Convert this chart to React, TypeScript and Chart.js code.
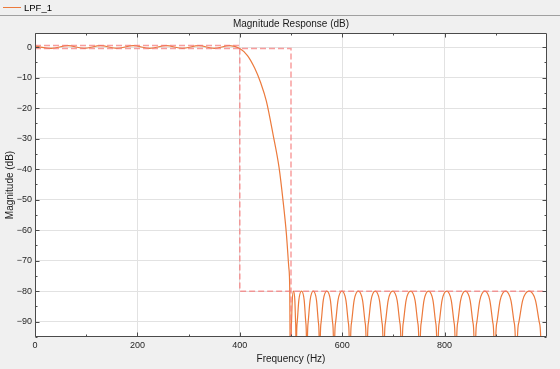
import React, { useEffect, useRef } from "react";
import { Chart, registerables } from "chart.js";
Chart.register(...registerables);

// Passband ripple extrema (Hz, dB)
const passFreq = [0, 32, 64, 96, 128, 160, 192, 224, 256, 288, 320, 350, 380, 400];
const passMag = [0.3, -0.45, 0.45, -0.45, 0.45, -0.45, 0.45, -0.45, 0.45, -0.45, 0.45, -0.45, 0.45, -0.5];

// Transition band (Hz, dB)
const transFreq = [415, 429, 441, 452, 465, 476.7, 484.5, 491, 495.6, 497.6, 500];
const transMag = [-2.8, -6.9, -11.8, -17.8, -28.7, -39.5, -50.4, -61.2, -72, -80, -150];

// Stopband lobes (Hz, dB)
const stopFreq = [
  500.3, 501, 502.5, 505, 507.5, 509, 509.7, 510,
  510.6, 512.1, 515.3, 520.5, 525.8, 528.9, 530.4, 531,
  531.8, 533.5, 537.3, 543.5, 549.8, 553.5, 555.3, 556,
  556.8, 558.8, 563, 570, 577, 581.2, 583.2, 584,
  584.9, 587.1, 591.8, 599.5, 607.3, 611.9, 614.1, 615,
  616, 618.3, 623.3, 631.5, 639.8, 644.7, 647, 648,
  649, 651.3, 656.3, 664.5, 672.8, 677.7, 680, 681,
  682.1, 684.5, 689.8, 698.5, 707.3, 712.5, 715, 716,
  717.1, 719.5, 724.8, 733.5, 742.3, 747.5, 750, 751,
  752.1, 754.5, 759.8, 768.5, 777.3, 782.5, 785, 786,
  787.1, 789.6, 795, 804, 813, 818.4, 820.9, 822,
  823.1, 825.7, 831.3, 840.5, 849.8, 855.3, 857.9, 859,
  860.2, 862.9, 868.8, 878.5, 888.3, 894.1, 896.8, 898,
  899.3, 902.2, 908.5, 919, 929.5, 935.8, 938.7, 940,
  941.5, 945, 952.5, 965, 977.5, 985, 988.5, 990,
  1000,
];
const stopMag = [
  -99.6, -90.2, -83, -80, -83, -90.2, -99.6, -150,
  -99.6, -90.2, -83, -80, -83, -90.2, -99.6, -150,
  -99.6, -90.2, -83, -80, -83, -90.2, -99.6, -150,
  -99.6, -90.2, -83, -80, -83, -90.2, -99.6, -150,
  -99.6, -90.2, -83, -80, -83, -90.2, -99.6, -150,
  -99.6, -90.2, -83, -80, -83, -90.2, -99.6, -150,
  -99.6, -90.2, -83, -80, -83, -90.2, -99.6, -150,
  -99.6, -90.2, -83, -80, -83, -90.2, -99.6, -150,
  -99.6, -90.2, -83, -80, -83, -90.2, -99.6, -150,
  -99.6, -90.2, -83, -80, -83, -90.2, -99.6, -150,
  -99.6, -90.2, -83, -80, -83, -90.2, -99.6, -150,
  -99.6, -90.2, -83, -80, -83, -90.2, -99.6, -150,
  -99.6, -90.2, -83, -80, -83, -90.2, -99.6, -150,
  -99.6, -90.2, -83, -80, -83, -90.2, -99.6, -150,
  -99.6, -90.2, -83, -80, -83, -90.2, -99.6, -150,
  -120,
];

// Specification mask lines
const maskUpperFreq = [0, 400];
const maskUpperMag = [0.5, 0.5];
const maskLowerFreq = [0, 500, 500];
const maskLowerMag = [-0.5, -0.5, -200];
const maskStopFreq = [400, 400, 1000];
const maskStopMag = [-0.5, -80, -80];

// Ticks
const xTickValues = [0, 200, 400, 600, 800];
const xMinorTicks = [100, 300, 500, 700, 900];
const yTickValues = [-90, -80, -70, -60, -50, -40, -30, -20, -10, 0];
const yMinorTicks = [-95, -85, -75, -65, -55, -45, -35, -25, -15, -5];

const X_MIN = 0;
const X_MAX = 1000;
const Y_MIN = -95;
const Y_MAX = 4.6;

const FONT = "'Liberation Sans', Arial, Helvetica, sans-serif";
const CURVE = "#ec7a3c";
const MASK = "rgba(245,115,115,0.7)";

const toPts = (xs: number[], ys: number[]) => xs.map((x, i) => ({ x, y: ys[i] }));

const framePlugin = {
  id: "frame",
  beforeDraw(chart: any) {
    const { ctx, chartArea: a } = chart;
    ctx.save();
    ctx.fillStyle = "#ffffff";
    ctx.fillRect(a.left, a.top, a.right - a.left, a.bottom - a.top);
    ctx.restore();
  },
  afterDraw(chart: any) {
    const { ctx, chartArea: a, scales } = chart;
    const L = Math.round(a.left) + 0.5;
    const R = Math.round(a.right) - 0.5;
    const T = Math.round(a.top) + 0.5;
    const B = Math.round(a.bottom) - 0.5;
    ctx.save();
    ctx.strokeStyle = "#4a4a4a";
    ctx.lineWidth = 1;
    ctx.beginPath();
    ctx.moveTo(L, T);
    ctx.lineTo(R, T);
    ctx.lineTo(R, B);
    ctx.lineTo(L, B);
    ctx.closePath();
    ctx.stroke();
    const xs = scales.x;
    const ys = scales.y;
    const drawX = (v: number, len: number) => {
      const p = Math.round(xs.getPixelForValue(v)) + 0.5;
      ctx.moveTo(p, B);
      ctx.lineTo(p, B - len);
      ctx.moveTo(p, T);
      ctx.lineTo(p, T + len);
    };
    const drawY = (v: number, len: number) => {
      const p = Math.round(ys.getPixelForValue(v)) + 0.5;
      ctx.moveTo(L, p);
      ctx.lineTo(L + len, p);
      ctx.moveTo(R, p);
      ctx.lineTo(R - len, p);
    };
    ctx.beginPath();
    xTickValues.forEach((v) => drawX(v, 4));
    xMinorTicks.forEach((v) => drawX(v, 2));
    yTickValues.forEach((v) => drawY(v, 4));
    yMinorTicks.forEach((v) => drawY(v, 2));
    ctx.stroke();
    ctx.restore();
  },
};

export default function App() {
  const ref = useRef<HTMLCanvasElement>(null);

  useEffect(() => {
    const smoothPart = [...toPts(passFreq, passMag), ...toPts(transFreq, transMag)];
    const stopPart = [{ x: transFreq[transFreq.length - 1], y: transMag[transMag.length - 1] }, ...toPts(stopFreq, stopMag)];
    const maskStyle = {
      borderColor: MASK,
      borderWidth: 1.5,
      borderDash: [6, 3],
      pointRadius: 0,
      tension: 0,
      fill: false,
      order: 0,
    };
    const chart = new Chart(ref.current as HTMLCanvasElement, {
      type: "line",
      data: {
        datasets: [
          { label: "mask1", data: toPts(maskUpperFreq, maskUpperMag), ...maskStyle },
          { label: "mask2", data: toPts(maskLowerFreq, maskLowerMag), ...maskStyle },
          { label: "mask3", data: toPts(maskStopFreq, maskStopMag), ...maskStyle },
          {
            label: "LPF_1",
            data: smoothPart,
            borderColor: CURVE,
            borderWidth: 1.2,
            pointRadius: 0,
            cubicInterpolationMode: "monotone",
            fill: false,
            order: 1,
          },
          {
            label: "LPF_1 stopband",
            data: stopPart,
            borderColor: CURVE,
            borderWidth: 1.2,
            pointRadius: 0,
            cubicInterpolationMode: "monotone",
            fill: false,
            order: 1,
          },
        ],
      },
      options: {
        responsive: false,
        animation: false,
        devicePixelRatio: 1,
        layout: { padding: { top: 16, right: 13, bottom: 0, left: 0 } },
        plugins: {
          legend: { display: false },
          tooltip: { enabled: false },
          title: {
            display: true,
            text: "Magnitude Response (dB)",
            fullSize: false,
            color: "#1a1a1a",
            font: { family: FONT, size: 10, weight: "normal" },
            padding: { top: 2.5, bottom: 2.5 },
          },
        },
        scales: {
          x: {
            type: "linear",
            min: X_MIN,
            max: X_MAX,
            afterBuildTicks: (s: any) => {
              s.ticks = xTickValues.map((v) => ({ value: v }));
            },
            afterFit: (s: any) => {
              s.height = 32;
            },
            ticks: {
              color: "#1f1f1f",
              font: { family: FONT, size: 9 },
              padding: 3,
              maxRotation: 0,
              autoSkip: false,
              callback: (v: any) => String(v),
            },
            grid: { color: "#e2e2e2", drawTicks: false, lineWidth: 1 },
            border: { display: false },
            title: {
              display: true,
              text: "Frequency (Hz)",
              color: "#1a1a1a",
              font: { family: FONT, size: 10 },
              padding: { top: 0, bottom: 4 },
            },
          },
          y: {
            type: "linear",
            min: Y_MIN,
            max: Y_MAX,
            afterBuildTicks: (s: any) => {
              s.ticks = yTickValues.map((v) => ({ value: v }));
            },
            afterFit: (s: any) => {
              s.width = 35;
            },
            ticks: {
              color: "#1f1f1f",
              font: { family: FONT, size: 9 },
              padding: 3,
              autoSkip: false,
              callback: (v: any) => String(v).replace("-", "\u2212"),
            },
            grid: { color: "#e2e2e2", drawTicks: false, lineWidth: 1 },
            border: { display: false },
            title: {
              display: true,
              text: "Magnitude (dB)",
              color: "#1a1a1a",
              font: { family: FONT, size: 10 },
              padding: { top: 4, bottom: 0 },
            },
          },
        },
      },
      plugins: [framePlugin],
    } as any);
    return () => chart.destroy();
  }, []);

  return (
    <div
      style={{
        position: "fixed",
        left: 0,
        top: 0,
        width: 560,
        height: 369,
        background: "#f0f0f0",
        overflow: "hidden",
      }}
    >
      <canvas
        ref={ref}
        width={560}
        height={369}
        style={{ position: "absolute", left: 0, top: 0, width: 560, height: 369 }}
      />
      <div
        style={{
          position: "absolute",
          left: 0,
          top: 0,
          width: 560,
          height: 15,
          borderBottom: "1px solid #a0a0a0",
          fontFamily: FONT,
          fontSize: 9.5,
          color: "#000",
        }}
      >
        <span
          style={{
            position: "absolute",
            left: 3,
            top: 7,
            width: 18,
            height: 0,
            borderTop: "1px solid " + CURVE,
          }}
        />
        <span style={{ position: "absolute", left: 24, top: 1.5, lineHeight: "11px" }}>LPF_1</span>
      </div>
    </div>
  );
}
